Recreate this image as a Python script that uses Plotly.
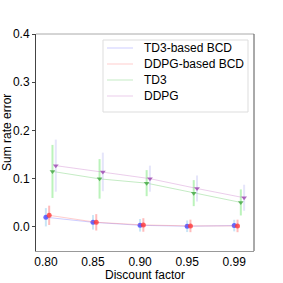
import plotly.graph_objects as go

discount_labels = ["0.80", "0.85", "0.90", "0.95", "0.99"]
positions = [0, 1, 2, 3, 4]
offsets = [0.0, 0.07, 0.14, 0.21]

series_names = ["TD3-based BCD", "DDPG-based BCD", "TD3", "DDPG"]
td3_bcd = [0.020, 0.0095, 0.0033, 0.0013, 0.0027]
td3_bcd_err = [0.019, 0.015, 0.013, 0.012, 0.012]
ddpg_bcd = [0.024, 0.0095, 0.004, 0.002, 0.002]
ddpg_bcd_err = [0.020, 0.017, 0.014, 0.013, 0.013]
td3 = [0.115, 0.0996, 0.0907, 0.070, 0.0507]
td3_err = [0.055, 0.041, 0.027, 0.027, 0.027]
ddpg = [0.127, 0.114, 0.100, 0.0796, 0.0604]
ddpg_err = [0.054, 0.040, 0.027, 0.027, 0.027]

values = [td3_bcd, ddpg_bcd, td3, ddpg]
errors = [td3_bcd_err, ddpg_bcd_err, td3_err, ddpg_err]
marker_colors = ["rgba(60,60,255,0.75)", "rgba(255,50,50,0.75)",
                 "rgba(60,160,60,0.75)", "rgba(150,60,170,0.75)"]
line_colors = ["rgba(90,90,255,0.3)", "rgba(255,90,90,0.3)",
               "rgba(60,190,60,0.3)", "rgba(190,90,190,0.3)"]
err_colors = ["rgba(100,180,230,0.35)", "rgba(255,60,60,0.35)",
              "rgba(60,220,60,0.35)", "rgba(180,180,240,0.35)"]
symbols = ["circle", "circle", "triangle-down", "triangle-down"]

fig = go.Figure()
for k in range(4):
    xs = [p + offsets[k] for p in positions]
    fig.add_trace(go.Scatter(
        x=xs, y=values[k], mode="lines+markers", name=series_names[k],
        line=dict(color=line_colors[k], width=1),
        marker=dict(symbol=symbols[k], size=5, color=marker_colors[k]),
        error_y=dict(type="data", array=errors[k], color=err_colors[k],
                     thickness=2, width=0),
        showlegend=False,
    ))

# manual legend (paper coordinates) for tighter spacing
W, H = 218.0, 217.0  # plot area size in px
L, T = 36, 34        # plot area top-left
def px_x(p):
    return (p - L) / W
def px_y(p):
    return 1 - (p - T) / H

shapes = [
    dict(type="line", xref="paper", yref="paper", x0=0, x1=1, y0=1, y1=1,
         line=dict(color="#aaaaaa", width=1)),
    dict(type="line", xref="paper", yref="paper", x0=1, x1=1, y0=0, y1=1,
         line=dict(color="#555555", width=1)),
    dict(type="rect", xref="paper", yref="paper",
         x0=px_x(103), x1=px_x(248), y0=px_y(112), y1=px_y(40),
         line=dict(color="#dddddd", width=1), fillcolor="rgba(255,255,255,0.8)",
         layer="above"),
]
annotations = []
legend_rows = [48, 64, 80, 96]
for k in range(4):
    yy = px_y(legend_rows[k])
    shapes.append(dict(type="line", xref="paper", yref="paper",
                       x0=px_x(107), x1=px_x(133), y0=yy, y1=yy,
                       line=dict(color=line_colors[k], width=1), layer="above"))
    annotations.append(dict(text=series_names[k], xref="paper", yref="paper",
                            x=px_x(142), y=yy, xanchor="left", yanchor="middle",
                            showarrow=False, font=dict(size=12, color="black")))

annotations.append(dict(text="Discount factor", xref="paper", yref="paper",
                        x=px_x(145), y=px_y(283), xanchor="center",
                        yanchor="bottom", showarrow=False, borderpad=0,
                        font=dict(size=12, color="black")))
annotations.append(dict(text="Sum rate error", xref="paper", yref="paper",
                        x=px_x(7), y=px_y(133), xanchor="center",
                        yanchor="middle", showarrow=False, textangle=-90,
                        font=dict(size=12, color="black")))

fig.update_layout(
    width=283, height=283,
    margin=dict(l=36, r=29, t=34, b=32, autoexpand=False),
    paper_bgcolor="white", plot_bgcolor="white",
    font=dict(family="Liberation Sans, Arial", size=12, color="black"),
    showlegend=False,
    xaxis=dict(
        range=[-0.21, 4.42], tickmode="array", tickvals=positions,
        ticktext=discount_labels, showgrid=False, zeroline=False,
        showline=True, linecolor="#999999", linewidth=1, mirror=False,
        ticks="", automargin=False,
    ),
    yaxis=dict(
        range=[-0.05, 0.4], tickmode="array", tickvals=[0, 0.1, 0.2, 0.3, 0.4],
        ticktext=["0.0", "0.1", "0.2", "0.3", "0.4"], showgrid=False,
        zeroline=False, showline=True, linecolor="#444444", linewidth=1,
        ticks="outside", ticklen=3, tickcolor="#444444", automargin=False,
    ),
    shapes=shapes,
    annotations=annotations,
)

fig.write_html("out.html", config={"displayModeBar": False},
               post_script="document.body.style.margin='0';")
